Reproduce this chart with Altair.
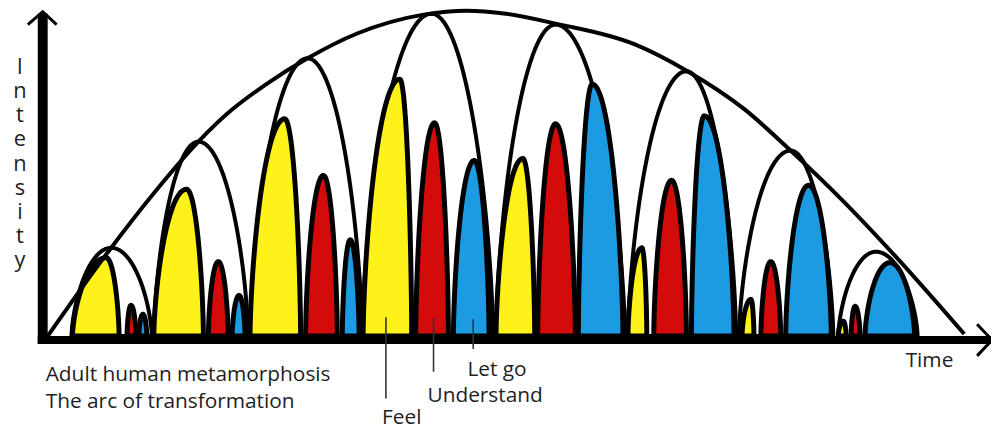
import numpy as np
import pandas as pd
import altair as alt

# ---------------- data ----------------
# Envelope "arc of transformation": time vs intensity
ENV_TIME = [4, 65, 111, 156, 186, 226, 266, 316, 383, 426, 466, 516, 596, 649, 706, 753, 806, 859, 928]
ENV_INTENSITY = [0, 85, 144, 196, 225, 255, 280, 305, 324, 328, 325, 315, 294, 267, 229, 187, 136, 80, 2]

# Outer (white) arches, one per cycle: start, peak time, end, peak intensity
OUTER_START = [28, 111, 208, 321, 456, 589, 701, 801]
OUTER_PEAK = [68, 156, 266, 391, 516, 648, 753, 839]
OUTER_END = [109, 206, 321, 453, 586, 698, 796, 881]
OUTER_HEIGHT = [89, 196, 280, 325, 314, 267, 187, 85]

# Coloured arches inside each cycle
STAGE = ["Feel", "Understand", "Let go"] * 8
STAGE_START = [29, 84, 96, 111, 166, 190, 208, 264, 301, 322, 375, 413,
               456, 498, 539, 589, 615, 653, 704, 723, 748, 801, 814, 828]
STAGE_PEAK = [63, 88, 100, 144, 176, 197, 243, 282, 309, 359, 394, 434,
              483, 516, 553, 603, 633, 666, 713, 733, 771, 806, 818, 853]
STAGE_END = [76, 93, 104, 161, 186, 203, 259, 296, 318, 371, 408, 449,
             495, 536, 584, 608, 648, 696, 716, 743, 794, 809, 823, 878]
STAGE_HEIGHT = [79, 31, 22, 148, 75, 41, 219, 162, 97, 259, 215, 177,
                179, 214, 254, 89, 157, 222, 37, 75, 152, 15, 30, 74]

STAGE_COLORS = ["#FFF21A", "#D30B0B", "#1C9BE3"]

# Axes (extents in data units) and arrow heads
X_AXIS = {"t": [-6], "t2": [962], "i": [-4], "i2": [-4], "w": [8]}
Y_AXIS = {"t": [-1], "t2": [-1], "i": [-8], "i2": [325], "w": [10]}
ARROW_ID = ["y", "y", "y", "x", "x", "x"]
ARROW_T = [-16, -1, 13, 941, 956, 941]
ARROW_I = [314, 327, 314, 12, -4, -20]

# Leader lines for the stage labels
LEADER_T = [345, 393, 433]
LEADER_TOP = [19, 19, 17]
LEADER_BOTTOM = [-63, -36, -13]

# Texts
LEFT_TEXT = ["Adult human metamorphosis", "The arc of transformation"]
LEFT_T = [2, 2]
LEFT_I = [-45, -73]
CENTER_TEXT = ["Feel", "Understand", "Let go", "Time"]
CENTER_T = [361, 445, 457, 893]
CENTER_I = [-89, -66, -40, -31]
Y_TITLE = "Intensity"

# ---------------- build tables ----------------
SHAPE_EXP = 0.65


def arch_rows(ids, starts, peaks, ends, heights, extra=None):
    rows = []
    phi = np.linspace(-np.pi / 2, np.pi / 2, 81)
    u = np.sin(phi)
    for k, (a, p, b, h) in enumerate(zip(starts, peaks, ends, heights)):
        t = np.where(u < 0, p + u * (p - a), p + u * (b - p))
        y = h * np.clip(1 - u ** 2, 0, 1) ** SHAPE_EXP
        for tt, yy in zip(t, y):
            row = {"id": ids[k], "t": float(tt), "i": float(yy), "base": 0.0}
            if extra is not None:
                row["stage"] = extra[k]
            rows.append(row)
    return pd.DataFrame(rows)


outer_df = arch_rows([f"o{k}" for k in range(len(OUTER_START))],
                     OUTER_START, OUTER_PEAK, OUTER_END, OUTER_HEIGHT)
stage_df = arch_rows([f"s{k:02d}" for k in range(len(STAGE_START))],
                     STAGE_START, STAGE_PEAK, STAGE_END, STAGE_HEIGHT, STAGE)
env_df = pd.DataFrame({"t": ENV_TIME, "i": ENV_INTENSITY})
axes_df = pd.concat([pd.DataFrame(X_AXIS), pd.DataFrame(Y_AXIS)], ignore_index=True)
arrow_df = pd.DataFrame({"id": ARROW_ID, "t": ARROW_T, "i": ARROW_I,
                         "o": list(range(len(ARROW_T)))})
leader_df = pd.DataFrame({"t": LEADER_T, "i": LEADER_TOP, "i2": LEADER_BOTTOM})
left_df = pd.DataFrame({"label": LEFT_TEXT, "t": LEFT_T, "i": LEFT_I})
center_df = pd.DataFrame({"label": CENTER_TEXT, "t": CENTER_T, "i": CENTER_I})
ytitle_df = pd.DataFrame({"label": ["\n".join(Y_TITLE)], "t": [-24], "i": [281]})

# ---------------- scales ----------------
XS = alt.Scale(domain=[-36, 955], nice=False, zero=False)
YS = alt.Scale(domain=[-94, 329], nice=False, zero=False)


def X(f):
    return alt.X(f, type="quantitative", scale=XS, axis=None)


def Y(f):
    return alt.Y(f, type="quantitative", scale=YS, axis=None)


FONT = "Open Sans"
TXT = "#1E1E1E"

outer = alt.Chart(outer_df).mark_area(
    fill="white", stroke="black", strokeWidth=4, strokeJoin="round"
).encode(x=X("t"), y=Y("i"), y2="base", detail="id:N")

stages = alt.Chart(stage_df).mark_area(
    stroke="black", strokeWidth=5, strokeJoin="round", fillOpacity=1
).encode(
    x=X("t"), y=Y("i"), y2="base", detail="id:N",
    color=alt.Color("stage:N", scale=alt.Scale(domain=STAGE[:3], range=STAGE_COLORS), legend=None),
)

envelope = alt.Chart(env_df).mark_line(
    color="black", strokeWidth=4, interpolate="monotone"
).encode(x=X("t"), y=Y("i"))

axes = alt.Chart(axes_df).mark_rule(color="black", strokeCap="butt").encode(
    x=X("t"), x2="t2", y=Y("i"), y2="i2", size=alt.Size("w:Q", scale=None, legend=None)
)

arrows = alt.Chart(arrow_df).mark_line(color="black", strokeWidth=3).encode(
    x=X("t"), y=Y("i"), detail="id:N", order="o:Q"
)

leaders = alt.Chart(leader_df).mark_rule(color="#333333", strokeWidth=1.6).encode(
    x=X("t"), y=Y("i"), y2="i2"
)

left_text = alt.Chart(left_df).mark_text(
    align="left", baseline="alphabetic", font=FONT, fontSize=21, color=TXT
).encode(x=X("t"), y=Y("i"), text="label:N")

center_text = alt.Chart(center_df).mark_text(
    align="center", baseline="alphabetic", font=FONT, fontSize=21, color=TXT
).encode(x=X("t"), y=Y("i"), text="label:N")

ytitle = alt.Chart(ytitle_df).mark_text(
    align="center", baseline="top", font=FONT, fontSize=22, color=TXT,
    lineBreak="\n", lineHeight=24.3
).encode(x=X("t"), y=Y("i"), text="label:N")

chart = alt.layer(
    outer, stages, envelope, axes, arrows, leaders, left_text, center_text, ytitle
).properties(
    width=991, height=423, padding=0, autosize=alt.AutoSizeParams(type="none"),
    background="white",
).configure_view(stroke=None)

chart.save("out.html", embed_options={"renderer": "svg", "actions": False})
